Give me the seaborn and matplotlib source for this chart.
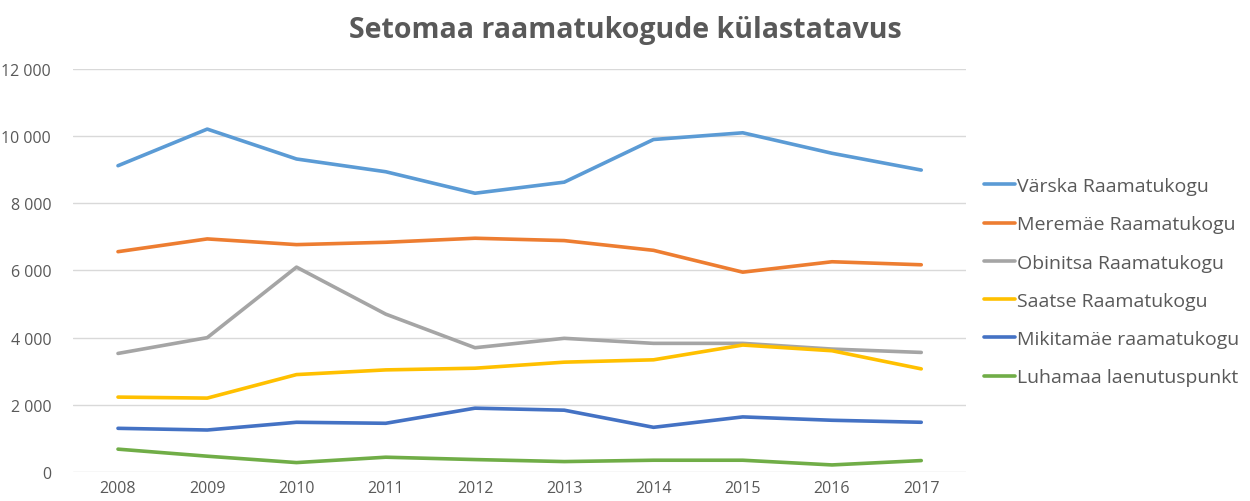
import pandas as pd
import seaborn as sns
import matplotlib.pyplot as plt

# Andmed
aastad = [2008, 2009, 2010, 2011, 2012, 2013, 2014, 2015, 2016, 2017]
varska = [9120, 10210, 9320, 8940, 8300, 8630, 9900, 10100, 9490, 8990]
meremae = [6560, 6940, 6770, 6840, 6960, 6890, 6600, 5950, 6260, 6170]
obinitsa = [3530, 4000, 6100, 4700, 3700, 3980, 3830, 3830, 3660, 3560]
saatse = [2230, 2200, 2900, 3040, 3090, 3270, 3340, 3780, 3610, 3070]
mikitamae = [1300, 1250, 1480, 1450, 1900, 1840, 1330, 1640, 1540, 1480]
luhamaa = [680, 470, 280, 440, 370, 310, 350, 350, 210, 340]

nimed = ["Värska Raamatukogu", "Meremäe Raamatukogu", "Obinitsa Raamatukogu",
         "Saatse Raamatukogu", "Mikitamäe raamatukogu", "Luhamaa laenutuspunkt"]
varvid = ["#5B9BD5", "#ED7D31", "#A5A5A5", "#FFC000", "#4472C4", "#70AD47"]

# Pikk tabel seaborni jaoks
read = []
for nimi, vals in zip(nimed, [varska, meremae, obinitsa, saatse, mikitamae, luhamaa]):
    for i, v in enumerate(vals):
        read.append({"pos": i, "aasta": aastad[i], "nimi": nimi, "kylastus": v})
df = pd.DataFrame(read)

sns.set_style("white")
plt.rcParams["font.family"] = ["Open Sans", "DejaVu Sans"]

fig = plt.figure(figsize=(12.5, 5.02), dpi=100)
ax = fig.add_axes([0.0587, 0.0578, 0.714, 0.8028])

sns.lineplot(data=df, x="pos", y="kylastus", hue="nimi", hue_order=nimed,
             palette=varvid, linewidth=2.6, ax=ax)

ax.set_xlim(-0.5, 9.5)
ax.set_ylim(0, 12000)
ax.set_xticks(range(len(aastad)))
ax.set_xticklabels([str(a) for a in aastad])
ax.set_yticks(range(0, 12001, 2000))
ax.set_yticklabels([f"{v:,}".replace(",", " ") for v in range(0, 12001, 2000)])
ax.tick_params(axis="both", length=0, labelsize=11.5, colors="#595959")
ax.tick_params(axis="y", pad=16)
ax.tick_params(axis="x", pad=6)
ax.set_xlabel("")
ax.set_ylabel("")
ax.grid(axis="y", color="#D9D9D9", linewidth=1)
ax.set_axisbelow(True)
sns.despine(ax=ax, left=True, bottom=True)

leg = ax.legend(loc="center left", bbox_to_anchor=(1.012, 0.472), frameon=False,
                fontsize=14, handlelength=1.6, handletextpad=0.1,
                labelspacing=1.04, borderaxespad=0)
for t in leg.get_texts():
    t.set_color("#595959")

fig.text(0.5, 0.94, "Setomaa raamatukogude külastatavus", ha="center", va="center",
         fontsize=20.5, fontweight="bold", color="#595959")

fig.savefig("out.png", dpi=100)
